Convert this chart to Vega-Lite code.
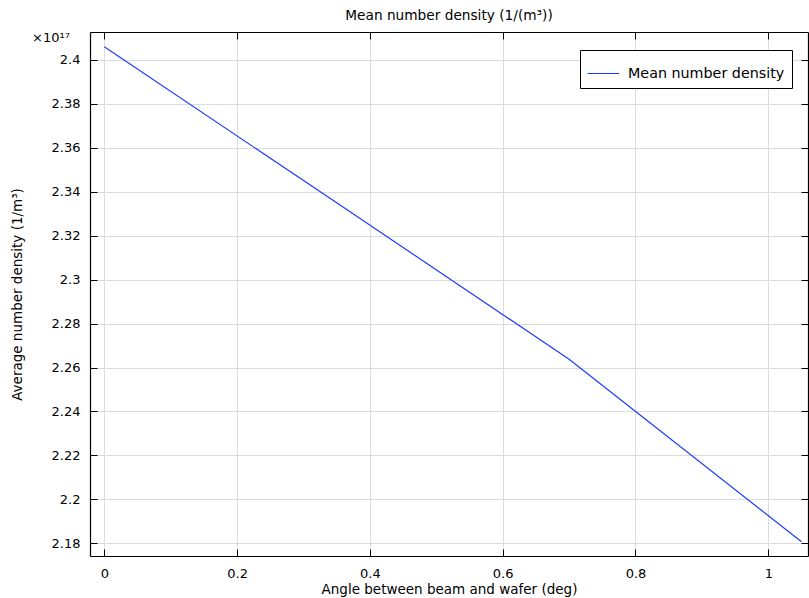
{
  "$schema": "https://vega.github.io/schema/vega-lite/v6.json",
  "width": 718,
  "height": 524,
  "autosize": "none",
  "padding": {"left": 90, "top": 32, "right": 1, "bottom": 42},
  "background": "white",
  "config": {
    "font": "DejaVu Sans",
    "view": {"stroke": null},
    "axis": {"labelFont": "DejaVu Sans", "titleFont": "DejaVu Sans", "labelFontSize": 13, "titleFontSize": 13.5, "labelColor": "black", "titleColor": "black", "titleFontWeight": "normal", "domainColor": "black", "tickColor": "black", "gridColor": "#dcdcdc", "gridWidth": 1}
  },
  "title": {"text": "Mean number density (1/(m³))", "fontSize": 13.7, "fontWeight": "normal", "font": "DejaVu Sans", "offset": 9, "color": "black"},
  "datasets": {
    "series": [
      {"angle": 0, "density": 2.4060e17, "series": "Mean number density"},
      {"angle": 0.35, "density": 2.3350e17, "series": "Mean number density"},
      {"angle": 0.7, "density": 2.2638e17, "series": "Mean number density"},
      {"angle": 1.05, "density": 2.1807e17, "series": "Mean number density"}
    ]
  },
  "layer": [
    {
      "data": {"name": "series"},
      "mark": {"type": "line", "strokeWidth": 1.2, "clip": true},
      "encoding": {
        "x": {"field": "angle", "type": "quantitative", "scale": {"domain": [-0.0215, 1.0598], "nice": false, "zero": false},
          "axis": {"values": [0, 0.2, 0.4, 0.6, 0.8, 1], "labelExpr": "format(datum.value, '~g')", "title": "Angle between beam and wafer (deg)", "tickSize": -7, "labelPadding": 18, "titlePadding": 2, "domainWidth": 1.2, "labelFlush": false}},
        "y": {"field": "density", "type": "quantitative", "scale": {"domain": [2.17422e17, 2.41274e17], "nice": false, "zero": false},
          "axis": {"values": [2.18e17, 2.2e17, 2.22e17, 2.24e17, 2.26e17, 2.28e17, 2.3e17, 2.32e17, 2.34e17, 2.36e17, 2.38e17, 2.4e17], "labelExpr": "format(datum.value/1e17, '.3~f')", "title": "Average number density (1/m³)", "tickSize": -7, "labelPadding": 17, "titlePadding": 27, "domainWidth": 1.2, "labelFlush": false}},
        "color": {"field": "series", "type": "nominal", "scale": {"range": ["#1a3cff"]},
          "legend": {"title": null, "orient": "none", "legendX": 490, "legendY": 18, "fillColor": "white", "strokeColor": "black", "padding": 7, "symbolType": "stroke", "symbolSize": 1000, "symbolStrokeWidth": 1.2, "labelOffset": 8, "labelFontSize": 14.3, "labelFont": "DejaVu Sans", "labelColor": "black"}}
      }
    },
    {
      "data": {"name": "series"},
      "mark": {"type": "line", "opacity": 0},
      "encoding": {
        "x": {"field": "angle", "type": "quantitative", "axis": {"orient": "top", "values": [0, 0.2, 0.4, 0.6, 0.8, 1], "labels": false, "title": null, "grid": false, "tickSize": -7, "domainWidth": 1.2}},
        "y": {"field": "density", "type": "quantitative", "axis": {"orient": "right", "values": [2.18e17, 2.2e17, 2.22e17, 2.24e17, 2.26e17, 2.28e17, 2.3e17, 2.32e17, 2.34e17, 2.36e17, 2.38e17, 2.4e17], "labels": false, "title": null, "grid": false, "tickSize": -7, "domainWidth": 1.2}}
      }
    },
    {
      "data": {"values": [{"label": "×10¹⁷"}]},
      "mark": {"type": "text", "align": "right", "baseline": "middle", "fontSize": 13, "font": "DejaVu Sans", "color": "black", "clip": false},
      "encoding": {
        "x": {"datum": -0.0517, "type": "quantitative", "axis": null},
        "y": {"datum": 2.4102e17, "type": "quantitative", "axis": null},
        "text": {"field": "label"}
      }
    }
  ],
  "resolve": {"axis": {"x": "independent", "y": "independent"}}
}
